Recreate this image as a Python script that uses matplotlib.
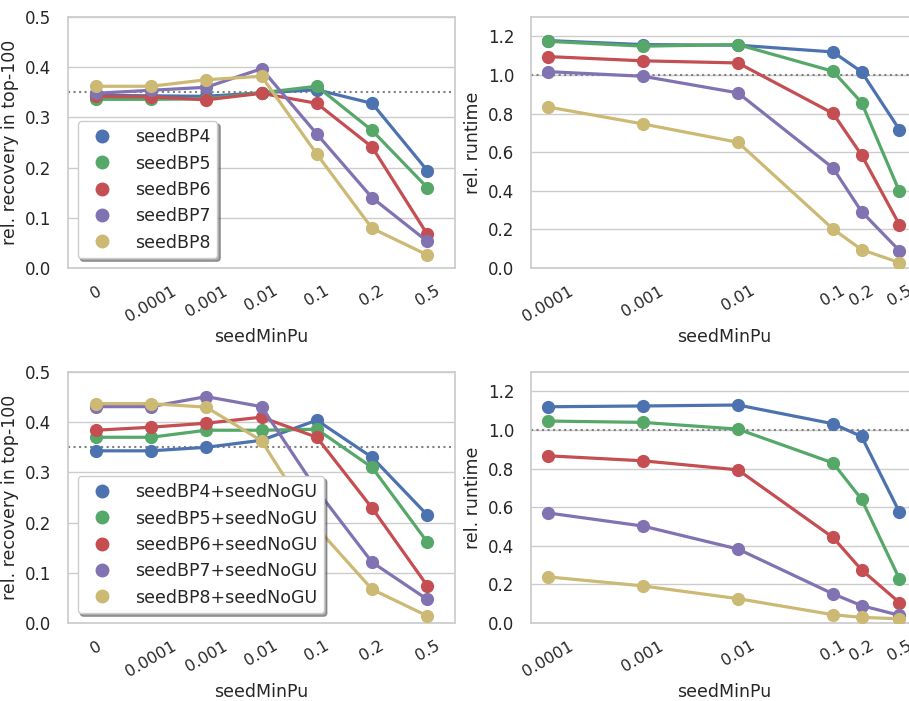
import numpy as np
import matplotlib
matplotlib.use("Agg")
import matplotlib.pyplot as plt
import seaborn as sns
from matplotlib.lines import Line2D

# data
cats = ["0", "0.0001", "0.001", "0.01", "0.1", "0.2", "0.5"]
pu = [0.0001, 0.001, 0.01, 0.1, 0.2, 0.5]
pu_labels = ["0.0001", "0.001", "0.01", "0.1", "0.2", "0.5"]

names_a = ["seedBP4", "seedBP5", "seedBP6", "seedBP7", "seedBP8"]
names_b = [n + "+seedNoGU" for n in names_a]

rec_bp4 = [0.344, 0.343, 0.342, 0.349, 0.355, 0.328, 0.194]
rec_bp5 = [0.336, 0.336, 0.337, 0.349, 0.362, 0.274, 0.160]
rec_bp6 = [0.342, 0.341, 0.335, 0.348, 0.328, 0.241, 0.067]
rec_bp7 = [0.348, 0.354, 0.360, 0.397, 0.267, 0.140, 0.053]
rec_bp8 = [0.362, 0.362, 0.375, 0.382, 0.227, 0.079, 0.026]

rt_bp4 = [1.178, 1.157, 1.154, 1.119, 1.016, 0.717]
rt_bp5 = [1.174, 1.149, 1.157, 1.019, 0.857, 0.397]
rt_bp6 = [1.095, 1.073, 1.062, 0.801, 0.585, 0.225]
rt_bp7 = [1.017, 0.993, 0.907, 0.518, 0.292, 0.090]
rt_bp8 = [0.834, 0.746, 0.651, 0.202, 0.095, 0.028]

recg_bp4 = [0.343, 0.343, 0.350, 0.364, 0.404, 0.330, 0.215]
recg_bp5 = [0.370, 0.370, 0.384, 0.384, 0.386, 0.310, 0.161]
recg_bp6 = [0.384, 0.390, 0.398, 0.410, 0.370, 0.229, 0.074]
recg_bp7 = [0.431, 0.431, 0.451, 0.431, 0.265, 0.121, 0.047]
recg_bp8 = [0.437, 0.437, 0.430, 0.363, 0.190, 0.067, 0.014]

rtg_bp4 = [1.120, 1.124, 1.129, 1.032, 0.966, 0.575]
rtg_bp5 = [1.046, 1.039, 1.004, 0.829, 0.641, 0.229]
rtg_bp6 = [0.866, 0.840, 0.793, 0.443, 0.275, 0.106]
rtg_bp7 = [0.570, 0.502, 0.383, 0.151, 0.090, 0.040]
rtg_bp8 = [0.239, 0.192, 0.126, 0.043, 0.029, 0.022]

colors = ["#4C72B0", "#55A868", "#C44E52", "#8172B2", "#CCB974"]

sns.set_theme(style="whitegrid")
plt.rcParams['font.family'] = ['DejaVu Sans']

XTICK_FS = 11.5
YTICK_FS = 12
LABEL_FS = 12.5

fig = plt.figure(figsize=(9.09, 7.01), dpi=100)
W, H = 909.0, 701.0


def make_ax(x0, y0, x1, y1):
    return fig.add_axes([x0 / W, 1 - y1 / H, (x1 - x0) / W, (y1 - y0) / H])


ax_tl = make_ax(68, 17, 455, 268)
ax_tr = make_ax(531, 17, 918, 268)
ax_bl = make_ax(68, 372, 455, 623)
ax_br = make_ax(531, 372, 918, 623)

LW = 2.3
MS = 8.5


def draw_recovery(ax, series, labels):
    xs = np.arange(len(cats))
    ax.axhline(0.35, color="gray", ls=":", lw=1.5, zorder=1)
    for ys, c in zip(series, colors):
        ax.plot(xs, ys, color=c, lw=LW, marker="o", ms=MS, mec=c, zorder=3)
    ax.set_xlim(-0.5, len(cats) - 0.5)
    ax.set_ylim(0, 0.5)
    ax.set_xticks(xs)
    ax.set_xticklabels(cats, rotation=30, ha="center")
    ax.set_yticks([0.0, 0.1, 0.2, 0.3, 0.4, 0.5])
    ax.set_ylabel("rel. recovery in top-100", fontsize=LABEL_FS, labelpad=4)
    ax.set_xlabel("seedMinPu", fontsize=LABEL_FS, labelpad=3)
    ax.xaxis.grid(False)
    handles = [Line2D([], [], ls="none", marker="o", ms=MS + 0.5, color=c) for c in colors]
    leg = ax.legend(handles, labels, loc="lower left", frameon=True, shadow=True,
                    fancybox=True, fontsize=LABEL_FS, labelspacing=0.48,
                    handletextpad=0.9, borderaxespad=0.55)
    leg.get_frame().set_facecolor("white")
    leg.get_frame().set_edgecolor("#cccccc")
    leg.set_zorder(10)


def draw_runtime(ax, series):
    ax.axhline(1.0, color="gray", ls=":", lw=1.5, zorder=1)
    for ys, c in zip(series, colors):
        ax.plot(pu, ys, color=c, lw=LW, marker="o", ms=MS, mec=c, zorder=3)
    ax.set_xscale("log")
    ax.set_xlim(10 ** -4.179, 10 ** -0.105)
    ax.set_ylim(0, 1.3)
    ax.set_xticks(pu)
    ax.set_xticklabels(pu_labels, rotation=30, ha="center")
    ax.xaxis.set_minor_locator(matplotlib.ticker.NullLocator())
    ax.set_yticks([0.0, 0.2, 0.4, 0.6, 0.8, 1.0, 1.2])
    ax.set_ylabel("rel. runtime", fontsize=LABEL_FS, labelpad=4)
    ax.set_xlabel("seedMinPu", fontsize=LABEL_FS, labelpad=3)
    ax.xaxis.grid(False)


draw_recovery(ax_tl, [rec_bp4, rec_bp5, rec_bp6, rec_bp7, rec_bp8], names_a)
draw_runtime(ax_tr, [rt_bp4, rt_bp5, rt_bp6, rt_bp7, rt_bp8])
draw_recovery(ax_bl, [recg_bp4, recg_bp5, recg_bp6, recg_bp7, recg_bp8], names_b)
draw_runtime(ax_br, [rtg_bp4, rtg_bp5, rtg_bp6, rtg_bp7, rtg_bp8])

for ax in [ax_tl, ax_tr, ax_bl, ax_br]:
    ax.tick_params(axis="x", labelsize=XTICK_FS, pad=5)
    ax.tick_params(axis="y", labelsize=YTICK_FS, pad=6)

fig.savefig("out.png", dpi=100)
